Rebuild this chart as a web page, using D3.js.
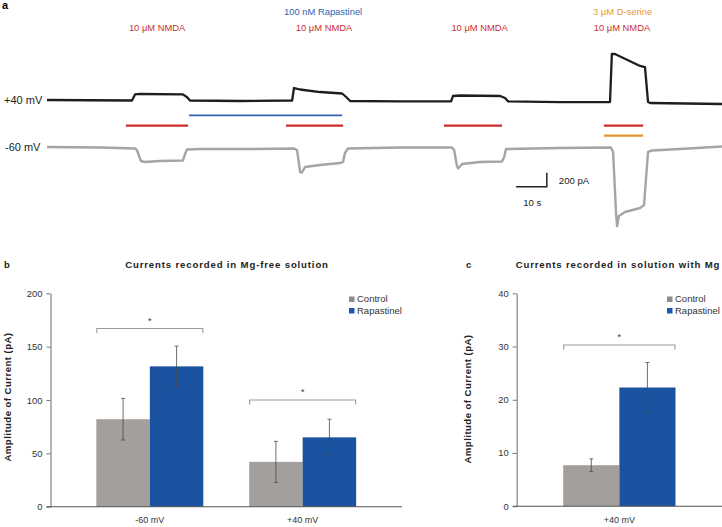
<!DOCTYPE html>
<html><head><meta charset="utf-8">
<script src="https://cdn.jsdelivr.net/npm/d3@7"></script>
<style>
html,body{margin:0;padding:0;background:#fff;}
svg{display:block;font-family:"Liberation Sans",Arial,sans-serif;}
</style></head>
<body><svg id="c" width="722" height="527"></svg>
<script>
// ---------- Panel a: current traces (time in s, current in pA relative to holding baseline) ----------
const tracePos40T = [0,27.7,28.7,30.3,44.3,45.6,46.6,62.9,79.9,80.5,82.5,89.0,96.2,97.5,98.8,115.1,131.7,132.3,134.6,147.7,149.3,150.3,167.2,183.5,184.1,185.1,193.3,194.9,195.9,196.6,220];
const tracePos40I = [0,-7,79,86,79,43,-7,-14,-7,171,150,114,93,43,-14,-21,-21,57,64,57,29,-21,-29,-29,657,657,486,471,-29,-43,-57];
const traceNeg60T = [0,17.3,28.7,29.3,30.6,31.9,36.8,44.3,45.0,45.6,49.9,66.2,80.5,81.5,82.5,83.1,84.1,89.0,95.5,96.5,97.1,98.1,115.1,132.0,132.7,133.6,134.0,135.3,141.1,148.3,149.0,149.6,167.2,183.8,184.5,185.5,185.8,186.4,188.4,193.3,194.6,195.2,195.9,197.2,206.3,220];
const traceNeg60I = [0,-7,-21,-43,-200,-214,-200,-193,-100,-36,-29,-29,-21,-43,-357,-364,-286,-257,-229,-214,-86,-21,-7,-7,-43,-271,-307,-243,-214,-207,-143,-29,-14,-7,-71,-971,-1129,-986,-929,-871,-829,-471,-71,-50,-29,7];
const holdingLabels = ["+40 mV","-60 mV"];
// drug applications [start s, end s]
const drugNames = ["10 μM NMDA","10 μM NMDA","10 μM NMDA","10 μM NMDA","100 nM Rapastinel","3 μM D-serine"];
const drugKinds = ["nmda","nmda","nmda","nmda","rapa","dser"];
const drugStart = [25.7,77.9,129.4,181.5,46.3,181.5];
const drugEnd   = [46.0,96.5,148.3,194.3,96.2,194.3];
const drugLabelT = [35.9,90.3,141.0,187.4,90.0,187.6];
const scaleBarT = 10, scaleBarI = 200;

// ---------- Panel b ----------
const catsB = ["-60 mV","+40 mV"];
const seriesNames = ["Control","Rapastinel"];
const controlB = [82,42];
const controlErrB = [19.5,19.2];
const rapaB = [131.5,65];
const rapaErrB = [19,17];
const sigB = [167,100];
const yTicksB = [0,50,100,150,200];
// ---------- Panel c ----------
const catsC = ["+40 mV"];
const controlC = [7.7];
const controlErrC = [1.2];
const rapaC = [22.3];
const rapaErrC = [4.7];
const sigC = [30.3];
const yTicksC = [0,10,20,30,40];

const svg = d3.select("#c");
const FONT = "'Liberation Sans',Arial,sans-serif";
const COL = {nmda:"#cf2a2c", rapa:"#2f62b3", dser:"#e69530"};
const TXT = {nmda:"#cc2e2e", rapa:"#2f62b3", dser:"#e59a35"};

// ---- Panel a ----
const xT = d3.scaleLinear().domain([0,220]).range([47,722]);
const y40 = d3.scaleLinear().domain([0,200]).range([100,86]);
const y60 = d3.scaleLinear().domain([0,200]).range([147,133]);

svg.append("text").attr("x",2).attr("y",9).attr("font-size",11).attr("font-weight","bold").text("a");

const line40 = d3.line().x((d,i)=>xT(tracePos40T[i])).y(d=>y40(d));
const line60 = d3.line().x((d,i)=>xT(traceNeg60T[i])).y(d=>y60(d));
svg.append("path").attr("d",line60(traceNeg60I)).attr("fill","none").attr("stroke","#a7a4a2").attr("stroke-width",2.4).attr("stroke-linejoin","round");
svg.append("path").attr("d",line40(tracePos40I)).attr("fill","none").attr("stroke","#1e1e1e").attr("stroke-width",2.3).attr("stroke-linejoin","round");

svg.append("text").attr("x",4).attr("y",y40(0)+4).attr("font-size",11).attr("fill","#222").text(holdingLabels[0]);
svg.append("text").attr("x",5).attr("y",y60(0)+4).attr("font-size",11).attr("fill","#222").text(holdingLabels[1]);

const barY = {nmda:125.7, rapa:115.3, dser:135.7};
const labY = {nmda:31, rapa:15, dser:15};
drugNames.forEach((n,i)=>{
  const k = drugKinds[i];
  svg.append("line").attr("x1",xT(drugStart[i])).attr("x2",xT(drugEnd[i]))
    .attr("y1",barY[k]).attr("y2",barY[k]).attr("stroke",COL[k]).attr("stroke-width",k==="rapa"?1.8:2.2);
  svg.append("text").attr("x",xT(drugLabelT[i])).attr("y",labY[k]).attr("text-anchor","middle")
    .attr("font-size",9.4).attr("fill",TXT[k]).text(n);
});

// scale bar
const sbT0 = 152.9;
const sbY = 186.7;
svg.append("path").attr("d",`M${xT(sbT0)},${sbY}H${xT(sbT0+scaleBarT)}V${sbY-(y40(0)-y40(scaleBarI))}`)
  .attr("fill","none").attr("stroke","#222").attr("stroke-width",1.5);
svg.append("text").attr("x",xT(sbT0+scaleBarT)+12).attr("y",sbY-2.5).attr("font-size",9.6).attr("fill","#222").text(scaleBarI+" pA");
svg.append("text").attr("x",xT(sbT0)+7).attr("y",206).attr("font-size",9.6).attr("fill","#222").text(scaleBarT+" s");

// ---- Bar panels ----
const GRAY="#a39f9c", BLUE="#1b53a1";
function barPanel(o){
  const g = svg.append("g");
  const x = d3.scaleBand().domain(o.cats).range([o.x0,o.x1]).paddingInner(0.3).paddingOuter(o.pO);
  const xs = d3.scaleBand().domain(seriesNames).range([0,x.bandwidth()]);
  const y = d3.scaleLinear().domain([0,o.ymax]).range([o.y0,o.yTop]);
  // title & panel letter
  g.append("text").attr("x",o.letterX).attr("y",268).attr("font-size",9.5).attr("font-weight","bold").attr("fill","#222").text(o.letter);
  g.append("text").attr("x",o.titleX).attr("y",268).attr("text-anchor","middle").attr("font-size",9.6)
    .attr("font-weight","bold").attr("letter-spacing",0.85).attr("fill","#222").text(o.title);
  // y label
  g.append("text").attr("transform",`translate(${o.ylabX},${o.ylabY}) rotate(-90)`).attr("text-anchor","middle")
    .attr("font-size",9.6).attr("font-weight","bold").attr("letter-spacing",0.45).attr("fill","#222").text("Amplitude of Current (pA)");
  // bars
  o.cats.forEach((c,i)=>{
    const vals=[o.ctrl[i],o.rapa[i]], errs=[o.ctrlErr[i],o.rapaErr[i]];
    seriesNames.forEach((s,j)=>{
      const bx = x(c)+xs(s);
      g.append("rect").attr("x",bx).attr("y",y(vals[j])).attr("width",xs.bandwidth()).attr("height",y(0)-y(vals[j]))
        .attr("fill",j?BLUE:GRAY);
    });
    seriesNames.forEach((s,j)=>{
      const cx = x(c)+xs(s)+xs.bandwidth()/2;
      const t=y(vals[j]+errs[j]), b=y(vals[j]-errs[j]);
      g.append("path").attr("d",`M${cx},${t}V${b}M${cx-2},${t}H${cx+2}M${cx-2},${b}H${cx+2}`)
        .attr("stroke","#4a4a4a").attr("stroke-width",0.8).attr("fill","none");
    });
    // significance bracket
    const by=y(o.sig[i]);
    const bx0=x(c)+0.5, bx1=x(c)+x.bandwidth()-0.5;
    g.append("path").attr("d",`M${bx0},${by+4.5}V${by}H${bx1}V${by+4.5}`).attr("fill","none").attr("stroke","#9a9a9a").attr("stroke-width",1.1);
    g.append("text").attr("x",(bx0+bx1)/2).attr("y",by-5).attr("text-anchor","middle").attr("font-size",9).attr("fill","#333").text("*");
    // category label
    g.append("text").attr("x",x(c)+x.bandwidth()/2).attr("y",523).attr("text-anchor","middle").attr("font-size",9).attr("fill","#333").text(c);
  });
  // axes
  const ya = g.append("g").attr("transform",`translate(${o.x0},0)`)
    .call(d3.axisLeft(y).tickValues(o.ticks).tickSize(4).tickSizeOuter(0).tickPadding(4));
  ya.select(".domain").attr("stroke","#777").attr("stroke-width",1.1);
  ya.selectAll(".tick line").attr("stroke","#777");
  ya.selectAll(".tick text").attr("font-family",FONT).attr("font-size",9.4).attr("fill","#333");
  g.append("line").attr("x1",o.x0-4).attr("x2",o.x1).attr("y1",y(0)).attr("y2",y(0)).attr("stroke","#555").attr("stroke-width",1.1);
  // legend
  seriesNames.forEach((s,j)=>{
    g.append("rect").attr("x",o.legX).attr("y",296.5+j*11.5).attr("width",5.5).attr("height",5.5).attr("fill",j?"#1c58b0":"#8f8b88");
    g.append("text").attr("x",o.legX+8).attr("y",302.3+j*11.5).attr("font-size",9.5).attr("fill","#333").text(s);
  });
}
barPanel({cats:catsB, ctrl:controlB, rapa:rapaB, ctrlErr:controlErrB, rapaErr:rapaErrB, sig:sigB, ticks:yTicksB, ymax:200,
  x0:50.5, x1:402, pO:0.3, y0:506.7, yTop:293.3, letter:"b", letterX:4, title:"Currents recorded in Mg-free solution", titleX:227,
  ylabX:11, ylabY:397, legX:349});
barPanel({cats:catsC, ctrl:controlC, rapa:rapaC, ctrlErr:controlErrC, rapaErr:rapaErrC, sig:sigC, ticks:yTicksC, ymax:40,
  x0:516.7, x1:722, pO:0.29, y0:506.2, yTop:293.3, letter:"c", letterX:466, title:"Currents recorded in solution with Mg", titleX:618,
  ylabX:471, ylabY:399, legX:667});
</script></body></html>
